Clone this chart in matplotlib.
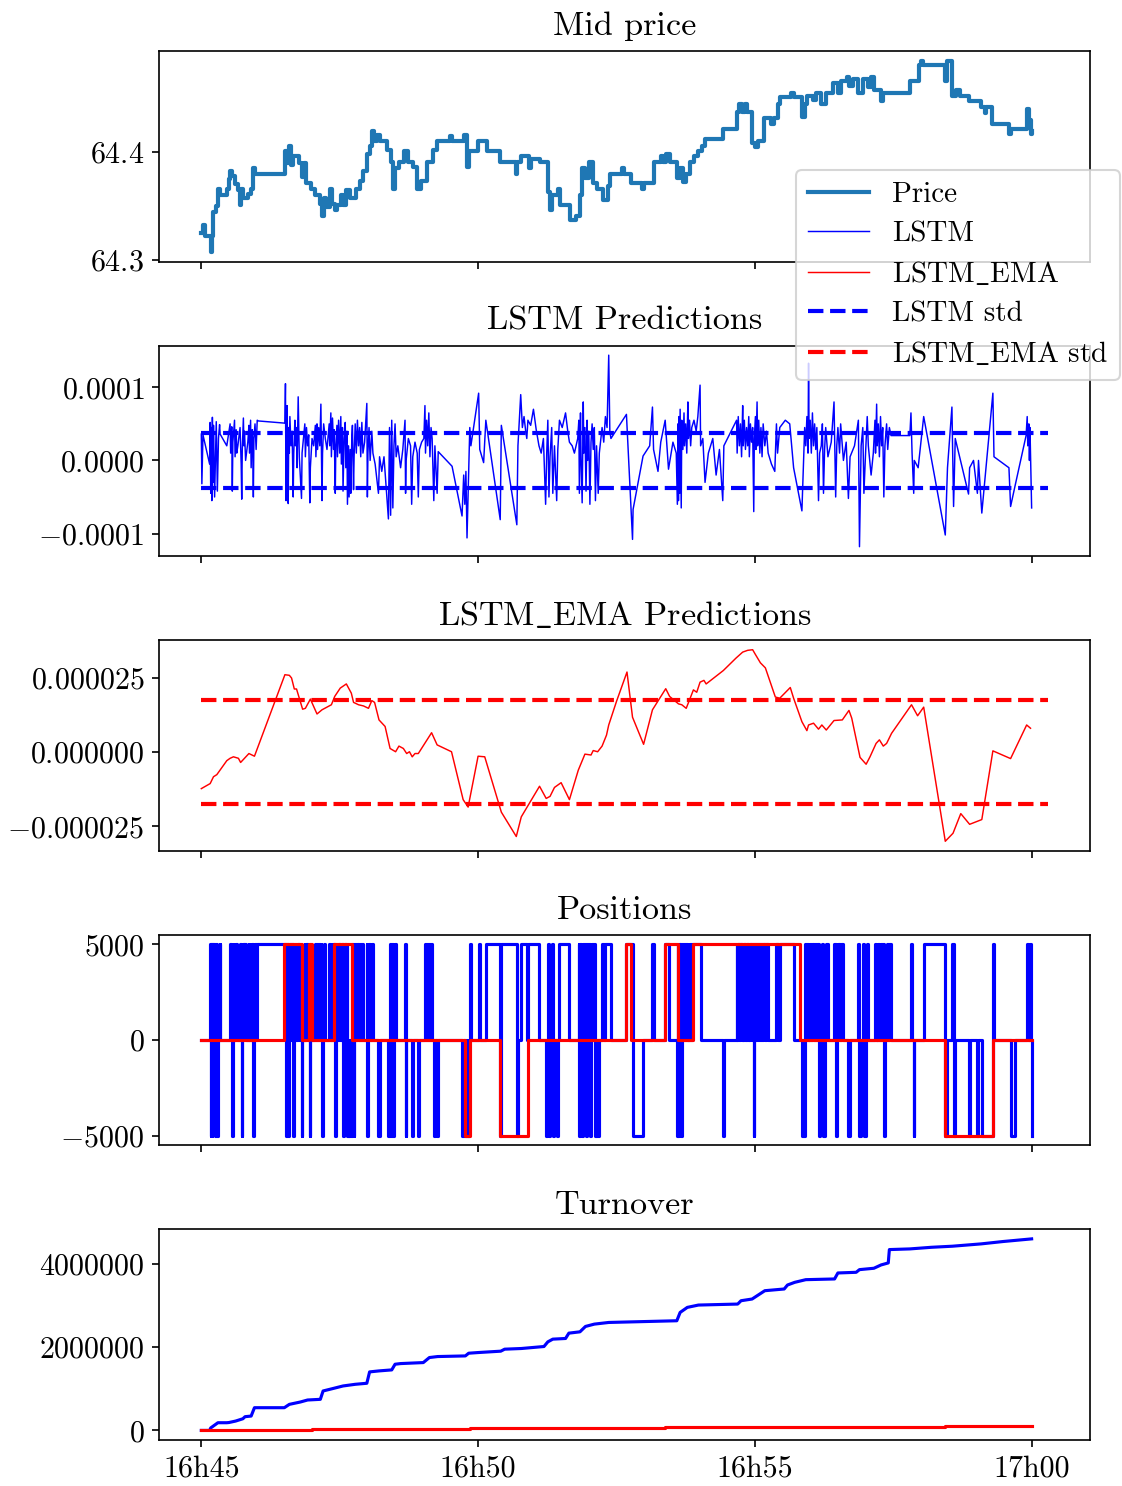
import matplotlib
matplotlib.use("Agg")
import matplotlib.pyplot as plt
from matplotlib.ticker import FixedLocator

plt.rcParams.update({
    "font.family": "serif",
    "font.serif": ["cmr10"],
    "mathtext.fontset": "cm",
    "axes.formatter.use_mathtext": True,
    "font.size": 14,
    "xtick.labelsize": 14.4,
    "ytick.labelsize": 14.4,
    "axes.titlesize": 16.4,
    "axes.titlepad": 7.5,
})

# ---------------- data (x = minutes after 16h45) ----------------
tick_minutes = [0, 5, 10, 15]
tick_labels = ["16h45", "16h50", "16h55", "17h00"]

price_t = [0.00, 0.03, 0.06, 0.17, 0.20, 0.22, 0.26, 0.30, 0.33, 0.46,
           0.50, 0.52, 0.56, 0.60, 0.66, 0.70, 0.72, 0.76, 0.84, 0.90,
           0.94, 0.97, 1.51, 1.55, 1.58, 1.62, 1.66, 1.76, 1.82, 1.86,
           1.90, 1.98, 2.06, 2.14, 2.18, 2.21, 2.26, 2.32, 2.36, 2.41,
           2.45, 2.52, 2.56, 2.62, 2.68, 2.80, 2.86, 2.92, 3.00, 3.04,
           3.09, 3.12, 3.18, 3.22, 3.36, 3.42, 3.46, 3.50, 3.58, 3.67,
           3.74, 3.82, 3.90, 3.96, 4.08, 4.18, 4.26, 4.50, 4.53, 4.74,
           4.80, 4.84, 5.00, 5.16, 5.40, 5.68, 5.71, 5.78, 5.92, 5.96,
           6.12, 6.26, 6.30, 6.34, 6.44, 6.48, 6.66, 6.76, 6.84, 6.88,
           6.94, 7.00, 7.08, 7.15, 7.26, 7.34, 7.39, 7.60, 7.63, 7.77,
           7.96, 7.99, 8.17, 8.30, 8.34, 8.40, 8.46, 8.59, 8.64, 8.70,
           8.76, 8.83, 8.90, 8.98, 9.04, 9.10, 9.43, 9.67, 9.72, 9.76,
           9.82, 9.86, 9.95, 10.00, 10.05, 10.16, 10.30, 10.34, 10.42, 10.46,
           10.65, 10.70, 10.86, 10.90, 10.95, 11.05, 11.10, 11.20, 11.28, 11.42,
           11.50, 11.56, 11.66, 11.70, 11.78, 11.86, 11.96, 12.04, 12.10, 12.16,
           12.27, 12.32, 12.81, 12.96, 13.00, 13.04, 13.44, 13.47, 13.56, 13.64,
           13.70, 13.86, 14.08, 14.15, 14.18, 14.29, 14.59, 14.62, 14.92, 14.95,
           14.98, 15.00]
price_v = [64.325, 64.332, 64.322, 64.307, 64.322, 64.344, 64.350, 64.366, 64.360, 64.366,
           64.375, 64.382, 64.378, 64.370, 64.365, 64.351, 64.366, 64.357, 64.361, 64.366,
           64.385, 64.380, 64.401, 64.390, 64.406, 64.388, 64.396, 64.390, 64.377, 64.390,
           64.371, 64.366, 64.360, 64.352, 64.341, 64.357, 64.349, 64.366, 64.352, 64.346,
           64.351, 64.360, 64.351, 64.365, 64.357, 64.366, 64.373, 64.382, 64.398, 64.406,
           64.420, 64.410, 64.416, 64.410, 64.402, 64.391, 64.366, 64.385, 64.391, 64.401,
           64.391, 64.386, 64.366, 64.373, 64.391, 64.402, 64.410, 64.415, 64.410, 64.416,
           64.386, 64.401, 64.410, 64.401, 64.391, 64.380, 64.391, 64.396, 64.385, 64.394,
           64.391, 64.363, 64.346, 64.360, 64.366, 64.351, 64.337, 64.341, 64.360, 64.385,
           64.376, 64.391, 64.371, 64.366, 64.355, 64.368, 64.380, 64.385, 64.380, 64.371,
           64.366, 64.371, 64.391, 64.396, 64.391, 64.398, 64.391, 64.376, 64.385, 64.372,
           64.380, 64.391, 64.396, 64.401, 64.406, 64.412, 64.421, 64.437, 64.445, 64.437,
           64.445, 64.437, 64.408, 64.405, 64.410, 64.432, 64.426, 64.432, 64.445, 64.451,
           64.455, 64.451, 64.433, 64.445, 64.452, 64.448, 64.455, 64.445, 64.455, 64.464,
           64.455, 64.466, 64.470, 64.461, 64.468, 64.455, 64.468, 64.460, 64.470, 64.458,
           64.447, 64.455, 64.466, 64.481, 64.485, 64.481, 64.466, 64.485, 64.452, 64.458,
           64.452, 64.447, 64.442, 64.436, 64.442, 64.426, 64.417, 64.421, 64.440, 64.430,
           64.417, 64.420]

# LSTM predictions (units of 1e-5) and LSTM positions (lots of 5000)
lstm_t = [0.00, 0.01, 0.03, 0.15, 0.16, 0.17, 0.18, 0.19, 0.20, 0.21,
          0.22, 0.24, 0.26, 0.27, 0.29, 0.31, 0.33, 0.34, 0.46, 0.52,
          0.53, 0.55, 0.56, 0.57, 0.60, 0.61, 0.63, 0.64, 0.66, 0.70,
          0.72, 0.73, 0.74, 0.76, 0.77, 0.78, 0.80, 0.84, 0.86, 0.87,
          0.89, 0.90, 0.92, 0.93, 0.94, 0.95, 0.97, 0.99, 1.01, 1.03,
          1.51, 1.52, 1.53, 1.54, 1.55, 1.56, 1.57, 1.58, 1.59, 1.60,
          1.62, 1.64, 1.66, 1.67, 1.69, 1.70, 1.72, 1.73, 1.75, 1.77,
          1.81, 1.82, 1.85, 1.87, 1.88, 1.90, 1.92, 1.94, 1.96, 1.97,
          2.00, 2.03, 2.06, 2.07, 2.09, 2.10, 2.12, 2.14, 2.16, 2.17,
          2.18, 2.19, 2.21, 2.24, 2.27, 2.31, 2.32, 2.34, 2.35, 2.37,
          2.39, 2.40, 2.42, 2.43, 2.45, 2.46, 2.48, 2.50, 2.52, 2.53,
          2.55, 2.56, 2.58, 2.60, 2.61, 2.63, 2.64, 2.66, 2.67, 2.69,
          2.70, 2.72, 2.73, 2.75, 2.76, 2.78, 2.80, 2.82, 2.84, 2.86,
          2.88, 2.90, 2.92, 2.95, 2.99, 3.00, 3.01, 3.03, 3.05, 3.08,
          3.10, 3.14, 3.20, 3.22, 3.26, 3.30, 3.38, 3.40, 3.42, 3.44,
          3.46, 3.48, 3.50, 3.52, 3.55, 3.60, 3.64, 3.68, 3.69, 3.70,
          3.74, 3.78, 3.80, 3.82, 3.86, 3.90, 3.92, 3.94, 3.98, 4.02,
          4.04, 4.05, 4.07, 4.09, 4.11, 4.13, 4.15, 4.17, 4.20, 4.22,
          4.26, 4.28, 4.53, 4.71, 4.74, 4.76, 4.78, 4.80, 4.82, 4.84,
          4.85, 4.87, 5.01, 5.03, 5.10, 5.14, 5.40, 5.42, 5.70, 5.72,
          5.77, 5.80, 5.83, 5.86, 5.88, 5.90, 5.95, 6.00, 6.05, 6.10,
          6.14, 6.18, 6.22, 6.24, 6.26, 6.28, 6.30, 6.33, 6.35, 6.38,
          6.42, 6.44, 6.47, 6.52, 6.58, 6.62, 6.65, 6.70, 6.74, 6.80,
          6.82, 6.83, 6.85, 6.86, 6.88, 6.90, 6.91, 6.93, 6.95, 6.97,
          6.98, 7.00, 7.02, 7.04, 7.06, 7.08, 7.10, 7.12, 7.14, 7.17,
          7.19, 7.24, 7.27, 7.30, 7.33, 7.36, 7.38, 7.40, 7.68, 7.79,
          7.80, 7.98, 8.10, 8.15, 8.17, 8.25, 8.30, 8.38, 8.44, 8.52,
          8.58, 8.60, 8.61, 8.62, 8.63, 8.64, 8.65, 8.66, 8.67, 8.68,
          8.70, 8.72, 8.73, 8.75, 8.77, 8.79, 8.80, 8.82, 8.84, 8.86,
          8.90, 8.94, 8.97, 9.01, 9.02, 9.06, 9.10, 9.16, 9.24, 9.30,
          9.36, 9.42, 9.44, 9.67, 9.68, 9.70, 9.72, 9.74, 9.76, 9.78,
          9.79, 9.81, 9.83, 9.85, 9.87, 9.89, 9.90, 9.92, 9.94, 9.96,
          9.98, 9.99, 10.01, 10.02, 10.04, 10.05, 10.07, 10.09, 10.11, 10.13,
          10.15, 10.18, 10.21, 10.24, 10.30, 10.36, 10.39, 10.41, 10.45, 10.55,
          10.63, 10.70, 10.85, 10.90, 10.92, 10.94, 10.96, 10.97, 10.98, 11.00,
          11.02, 11.04, 11.06, 11.08, 11.10, 11.12, 11.15, 11.17, 11.20, 11.22,
          11.24, 11.26, 11.28, 11.32, 11.38, 11.43, 11.46, 11.48, 11.50, 11.53,
          11.55, 11.60, 11.65, 11.69, 11.72, 11.80, 11.87, 11.89, 11.92, 11.95,
          11.97, 12.00, 12.03, 12.05, 12.10, 12.14, 12.17, 12.18, 12.20, 12.21,
          12.23, 12.25, 12.27, 12.29, 12.31, 12.33, 12.35, 12.38, 12.40, 12.43,
          12.46, 12.80, 12.82, 12.84, 12.87, 12.88, 12.95, 13.05, 13.44, 13.48,
          13.56, 13.59, 13.62, 13.86, 13.88, 13.95, 14.02, 14.04, 14.10, 14.30,
          14.32, 14.59, 14.62, 14.70, 14.90, 14.92, 14.93, 14.95, 14.96, 14.97,
          14.98, 15.00]
lstm_v = [3.6, -3.2, 3.5, -0.5, 5.2, -4.5, 4.5, -5.5, 5.9, -3.0,
          4.8, -5.0, 2.0, 5.3, -4.2, 3.0, 4.9, 3.6, 2.0, 5.0,
          1.0, 4.6, -4.2, 2.5, 5.5, 0.5, 4.2, 1.0, 2.0, 4.5,
          -0.5, -5.3, 1.5, 5.8, 2.0, 4.0, 0.0, 2.5, 4.8, 1.0,
          5.5, -1.0, 4.2, 2.0, -5.0, 3.0, 5.0, 1.5, 5.5, 5.4,
          5.1, 10.5, -5.5, 3.0, 7.5, 0.0, -5.9, 4.5, 1.0, 6.0,
          2.0, 4.0, -5.0, 1.0, 5.5, 2.0, 4.5, -1.0, 8.7, 0.5,
          -5.2, 1.0, 3.5, 5.0, 0.5, 4.5, 2.0, 3.5, -5.8, -1.0,
          3.0, 2.0, 4.8, 0.5, 5.0, 1.5, 4.5, 2.0, 7.7, 0.5,
          -5.5, 1.0, 5.0, 3.0, 1.5, 5.0, 2.0, 6.5, 0.5, 5.8,
          1.5, 4.2, -4.5, 2.0, 4.8, 0.5, 5.5, 1.0, 6.0, -0.5,
          4.5, -4.2, 3.0, 5.2, -1.0, 4.0, -6.0, 2.0, -5.0, 1.5,
          -4.5, 3.5, 4.8, -4.0, 0.5, 5.0, 1.0, 5.5, 2.0, 4.5,
          0.5, 5.2, 1.0, 2.5, 7.8, -5.0, 1.0, 4.5, 0.0, 4.0,
          1.0, -0.5, -4.5, 0.5, -1.5, 0.5, -8.0, 4.5, -7.5, 5.5,
          -6.5, 2.0, 5.0, 0.5, 2.0, -1.0, 1.5, 5.5, -4.5, 0.0,
          3.0, 2.0, -6.0, 0.5, 2.5, 1.0, -5.0, 1.5, 2.5, 3.0,
          7.5, 1.0, 5.5, 2.0, 6.5, 0.5, 4.5, 3.0, -5.5, 2.0,
          -4.5, 1.2, -0.8, -7.6, -2.0, -6.0, -1.5, -10.6, -4.5, 1.0,
          4.5, 2.0, 9.2, 1.5, -0.3, 5.5, -8.1, 4.8, -8.8, 2.0,
          9.0, 4.5, 6.0, 4.0, 3.0, 5.5, 4.8, 7.0, 4.2, 2.0,
          1.0, 3.0, -6.0, 1.0, 5.5, -5.0, 0.5, 4.5, -4.5, 2.0,
          -5.5, 1.5, 5.5, 4.5, 6.5, 4.0, 2.5, 2.0, 1.0, 3.0,
          5.5, -4.5, 6.5, 0.5, -5.8, 8.0, 1.0, 4.5, -4.2, 5.5,
          0.0, 4.0, -6.0, 2.5, 5.0, 1.5, 4.5, -5.5, 2.0, -4.5,
          1.0, 4.5, 2.5, 6.0, 4.5, 14.4, 4.0, 3.0, 6.3, -10.8,
          -6.7, 0.6, 2.0, 7.3, 1.5, -1.5, 2.5, 5.5, -1.2, 2.5,
          1.0, -6.0, 5.0, -5.5, 6.0, -4.5, 7.0, 0.5, -6.5, 5.5,
          1.5, 6.5, 2.0, 5.0, 1.0, 8.0, 3.0, 5.5, 2.0, 4.5,
          5.5, 4.0, 6.0, 10.3, 2.0, 3.0, -3.0, 1.0, 3.0, -2.0,
          1.5, -5.5, 2.0, 5.5, 1.0, 6.0, 2.0, 5.0, 0.5, 7.5,
          2.0, 5.5, 1.5, 4.5, 2.0, 6.0, 0.5, 5.0, 2.5, 4.5,
          -7.0, 3.0, 6.0, 1.5, 8.0, 2.0, 5.5, 1.0, 4.5, 0.5,
          5.0, 2.0, 4.0, 1.0, -0.5, -1.5, 5.0, 1.0, 4.5, 5.5,
          5.0, -1.0, -6.9, 4.5, 2.0, 6.0, 1.0, 13.3, 3.0, 5.5,
          1.0, 6.5, 2.0, 5.0, 1.5, 4.5, -5.5, 1.0, 2.0, 5.0,
          -4.5, 1.5, 4.5, 0.5, 2.5, 8.0, -5.0, 2.0, 4.5, 1.0,
          5.0, 0.0, 2.5, -5.2, 0.5, 2.0, 5.5, -11.8, 2.0, 4.5,
          -4.5, 1.0, 6.0, 2.0, -2.0, 1.0, 5.5, 1.0, 7.7, 2.0,
          5.0, 0.5, 6.0, 2.0, 4.5, -5.0, 2.0, 5.0, 1.5, 4.5,
          3.4, 3.4, 6.5, 1.0, -4.5, 0.0, -1.0, 6.0, -10.2, -1.0,
          7.3, -6.3, 3.0, -4.6, -1.0, 0.0, -4.5, 0.0, -7.2, 9.2,
          0.5, -1.0, -6.3, -3.5, 3.4, 6.0, 2.0, 5.0, 0.0, 4.5,
          1.0, -6.5]
lstm_pos = [0, 0, 0, 0, 1, -1, 1, -1, 1, 0,
            1, -1, 0, 1, -1, 0, 1, 0, 0, 1,
            0, 1, -1, 0, 1, 0, 1, 0, 0, 1,
            0, -1, 0, 1, 0, 1, 0, 0, 1, 0,
            1, 0, 1, 0, -1, 0, 1, 0, 1, 1,
            1, 1, -1, 0, 1, 0, -1, 1, 0, 1,
            0, 1, -1, 0, 1, 0, 1, 0, 1, 0,
            -1, 0, 0, 1, 0, 1, 0, 0, -1, 0,
            0, 0, 1, 0, 1, 0, 1, 0, 1, 0,
            -1, 0, 1, 0, 0, 1, 0, 1, 0, 1,
            0, 1, -1, 0, 1, 0, 1, 0, 1, 0,
            1, -1, 0, 1, 0, 1, -1, 0, -1, 0,
            -1, 0, 1, -1, 0, 1, 0, 1, 0, 1,
            0, 1, 0, 0, 1, -1, 0, 1, 0, 1,
            0, 0, -1, 0, 0, 0, -1, 1, -1, 1,
            -1, 0, 1, 0, 0, 0, 0, 1, -1, 0,
            0, 0, -1, 0, 0, 0, -1, 0, 0, 0,
            1, 0, 1, 0, 1, 0, 1, 0, -1, 0,
            -1, 0, 0, -1, 0, -1, 0, -1, -1, 0,
            1, 0, 1, 0, 0, 1, -1, 1, -1, 0,
            1, 1, 1, 1, 0, 1, 1, 1, 1, 0,
            0, 0, -1, 0, 1, -1, 0, 1, -1, 0,
            -1, 0, 1, 1, 1, 1, 0, 0, 0, 0,
            1, -1, 1, 0, -1, 1, 0, 1, -1, 1,
            0, 1, -1, 0, 1, 0, 1, -1, 0, -1,
            0, 1, 0, 1, 1, 1, 1, 0, 1, -1,
            -1, 0, 0, 1, 0, 0, 0, 1, 0, 0,
            0, -1, 1, -1, 1, -1, 1, 0, -1, 1,
            0, 1, 0, 1, 0, 1, 0, 1, 0, 1,
            1, 1, 1, 1, 0, 0, 0, 0, 0, 0,
            0, -1, 0, 1, 0, 1, 0, 1, 0, 1,
            0, 1, 0, 1, 0, 1, 0, 1, 0, 1,
            -1, 0, 1, 0, 1, 0, 1, 0, 1, 0,
            1, 0, 1, 0, 0, 0, 1, 0, 1, 1,
            1, 0, -1, 1, 0, 1, 0, 1, 0, 1,
            0, 1, 0, 1, 0, 1, -1, 0, 0, 1,
            -1, 0, 1, 0, 0, 1, -1, 0, 1, 0,
            1, 0, 0, -1, 0, 0, 1, -1, 0, 1,
            -1, 0, 1, 0, 0, 0, 1, 0, 1, 0,
            1, 0, 1, 0, 1, -1, 0, 1, 0, 1,
            0, 0, 1, 0, -1, 0, 0, 1, -1, 0,
            1, -1, 0, -1, 0, 0, -1, 0, -1, 1,
            0, 0, -1, 0, 0, 1, 0, 1, 0, 1,
            0, -1]

# LSTM_EMA predictions (units of 1e-5)
ema_t = [0.00, 0.16, 0.22, 0.28, 0.46, 0.52, 0.58, 0.67, 0.71, 0.86,
         0.96, 1.51, 1.59, 1.63, 1.68, 1.72, 1.83, 1.88, 1.97, 2.09,
         2.18, 2.35, 2.41, 2.51, 2.62, 2.71, 2.75, 2.84, 2.93, 3.02,
         3.08, 3.13, 3.21, 3.32, 3.41, 3.51, 3.57, 3.65, 3.71, 3.76,
         3.81, 3.86, 3.92, 4.16, 4.26, 4.52, 4.73, 4.82, 5.00, 5.12,
         5.42, 5.69, 5.78, 5.94, 6.11, 6.23, 6.30, 6.38, 6.50, 6.65,
         6.81, 6.93, 7.04, 7.08, 7.16, 7.24, 7.32, 7.36, 7.50, 7.69,
         7.79, 7.99, 8.15, 8.39, 8.46, 8.62, 8.68, 8.76, 8.89, 8.95,
         9.01, 9.08, 9.12, 9.43, 9.66, 9.78, 9.87, 9.96, 10.01, 10.10,
         10.19, 10.37, 10.45, 10.64, 10.70, 10.85, 10.94, 10.97, 11.06, 11.15,
         11.21, 11.29, 11.43, 11.58, 11.70, 11.75, 11.90, 12.01, 12.08, 12.19,
         12.25, 12.32, 12.38, 12.47, 12.83, 12.94, 13.05, 13.44, 13.58, 13.72,
         13.88, 14.10, 14.30, 14.62, 14.91, 14.98]
ema_v = [-1.23, -1.06, -0.83, -0.76, -0.29, -0.21, -0.16, -0.21, -0.35, -0.05,
         -0.14, 2.60, 2.58, 2.49, 2.12, 2.12, 1.44, 1.47, 1.78, 1.28,
         1.42, 1.59, 1.87, 2.15, 2.29, 1.98, 1.67, 1.59, 1.55, 1.47,
         1.73, 1.67, 1.08, 0.86, 0.12, 0.01, 0.20, 0.12, -0.05, 0.01,
         -0.16, -0.05, -0.05, 0.65, 0.24, 0.01, -1.60, -1.85, -0.14, -0.16,
         -2.02, -2.84, -2.18, -1.68, -1.15, -1.56, -1.49, -1.19, -1.03, -1.60,
         -0.61, -0.07, -0.10, 0.05, 0.01, 0.20, 0.57, 0.91, 1.70, 2.69,
         1.17, 0.26, 1.42, 2.13, 1.87, 1.62, 1.59, 1.47, 2.09, 2.01,
         2.35, 2.41, 2.29, 2.74, 3.16, 3.36, 3.42, 3.44, 3.28, 3.00,
         2.83, 1.85, 1.81, 2.17, 1.81, 1.02, 0.72, 0.91, 0.97, 0.77,
         0.91, 0.74, 1.06, 1.08, 1.40, 1.14, -0.18, -0.41, -0.16, 0.29,
         0.41, 0.20, 0.29, 0.63, 1.59, 1.22, 1.51, -3.00, -2.73, -2.07,
         -2.43, -2.27, 0.04, -0.22, 0.91, 0.80]

# standard-deviation bands (units of 1e-5) and their time span
lstm_std = 3.75
ema_std = 1.75
std_span = [0.0, 15.29]

# LSTM_EMA positions (lots) and turnover
ema_pos_t = [0.0, 1.50, 1.82, 1.94, 2.00, 2.39, 2.72, 4.77, 4.86, 5.40,
             5.90, 7.67, 7.77, 8.38, 8.62, 8.88, 10.82, 13.44, 14.30, 15.00]
ema_pos = [0, 1, 0, 1, 0, 1, 0, -1, 0, -1,
           0, 1, 0, 1, 0, 1, 0, -1, 0, 0]
ema_turn = [0, 5800, 11600, 17400, 23200, 29000, 34800, 40600, 46400, 52200,
            58000, 63800, 69600, 75400, 81200, 87000, 92800, 98600, 104400, 104400]
lot_size = 5000

lstm_turn_t = [0.00, 0.15, 0.17, 0.30, 0.46, 0.50, 0.62, 0.75, 0.79, 0.90,
               0.96, 1.50, 1.59, 1.79, 1.92, 2.15, 2.20, 2.37, 2.56, 2.78,
               2.99, 3.04, 3.21, 3.44, 3.50, 3.60, 4.01, 4.12, 4.27, 4.77,
               4.83, 5.00, 5.41, 5.48, 5.78, 6.19, 6.26, 6.35, 6.58, 6.64,
               6.84, 6.94, 7.10, 7.36, 8.59, 8.65, 8.78, 8.98, 9.69, 9.75,
               9.95, 10.18, 10.53, 10.59, 10.72, 10.92, 11.44, 11.50, 11.83, 11.89,
               12.15, 12.28, 12.41, 12.43, 12.80, 13.19, 13.57, 14.09, 14.48, 15.00]
lstm_turn_m = [0.0, 0.0, 0.06, 0.185, 0.185, 0.19, 0.225, 0.28, 0.33, 0.345,
               0.546, 0.546, 0.626, 0.683, 0.731, 0.747, 0.948, 1.004, 1.068, 1.108,
               1.133, 1.406, 1.43, 1.454, 1.59, 1.606, 1.63, 1.751, 1.775, 1.79,
               1.855, 1.871, 1.904, 1.952, 1.968, 2.016, 2.128, 2.193, 2.209, 2.337,
               2.369, 2.498, 2.554, 2.594, 2.635, 2.835, 2.956, 3.012, 3.036, 3.116,
               3.157, 3.357, 3.398, 3.494, 3.558, 3.622, 3.639, 3.783, 3.799, 3.863,
               3.896, 3.976, 4.024, 4.345, 4.361, 4.40, 4.426, 4.482, 4.538, 4.602]

# ---------------- figure ----------------
fig, axes = plt.subplots(5, 1, figsize=(1122 / 150, 1486 / 150), dpi=150, sharex=True)
fig.subplots_adjust(left=159 / 1122, right=1090 / 1122, top=1 - 51 / 1486,
                    bottom=1 - 1440 / 1486, hspace=84 / 211)
ax1, ax2, ax3, ax4, ax5 = axes

h_price, = ax1.plot(price_t, price_v, color="#1f77b4", lw=2, drawstyle="steps-post", label="Price")
ax1.set_title("Mid price")

h_lstm, = ax2.plot(lstm_t, [v * 1e-5 for v in lstm_v], color="blue", lw=0.7, label="LSTM")
h_lstm_std, = ax2.plot(std_span, [lstm_std * 1e-5] * 2, "b--", lw=2, label="LSTM std")
ax2.plot(std_span, [-lstm_std * 1e-5] * 2, "b--", lw=2)
ax2.set_title("LSTM Predictions")

h_ema, = ax3.plot(ema_t, [v * 1e-5 for v in ema_v], color="red", lw=0.7, label=r"LSTM$\_$EMA")
h_ema_std, = ax3.plot(std_span, [ema_std * 1e-5] * 2, "r--", lw=2, label=r"LSTM$\_$EMA std")
ax3.plot(std_span, [-ema_std * 1e-5] * 2, "r--", lw=2)
ax3.set_title(r"LSTM$\_$EMA Predictions")

ax4.plot(lstm_t, [p * lot_size for p in lstm_pos], color="blue", lw=1.5, drawstyle="steps-post")
ax4.plot(ema_pos_t, [p * lot_size for p in ema_pos], color="red", lw=1.5, drawstyle="steps-post")
ax4.set_title("Positions")

ax5.plot(lstm_turn_t, [v * 1e6 for v in lstm_turn_m], color="blue", lw=1.5)
ax5.plot(ema_pos_t, ema_turn, color="red", lw=1.5, drawstyle="steps-post")
ax5.set_title("Turnover")

for ax in axes:
    ax.ticklabel_format(axis="y", style="plain", useOffset=False)

ax5.xaxis.set_major_locator(FixedLocator(tick_minutes))
ax5.set_xticklabels(tick_labels)

fig.legend([h_price, h_lstm, h_ema, h_lstm_std, h_ema_std],
           ["Price", "LSTM", r"LSTM$\_$EMA", "LSTM std", r"LSTM$\_$EMA std"],
           loc="upper right", bbox_to_anchor=(1120 / 1122, 1 - 170 / 1486),
           borderaxespad=0.0, handlelength=2.1, labelspacing=0.44)

fig.savefig("out.png", dpi=150)
